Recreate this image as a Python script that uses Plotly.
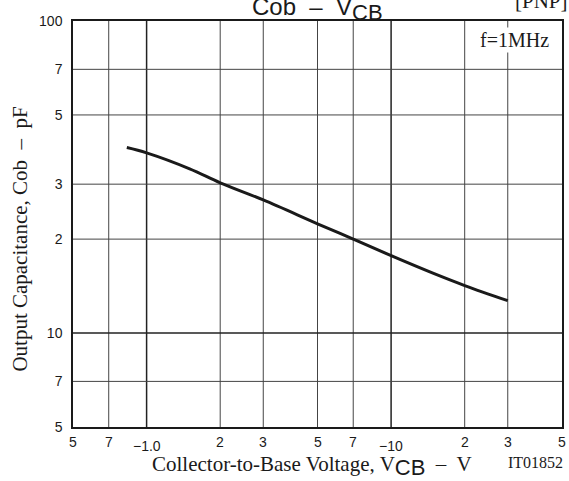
import math
import plotly.graph_objects as go

# Output capacitance vs collector-to-base voltage (magnitude, V) at f = 1 MHz
vcb = [0.83, 1.0, 1.5, 2.0, 3.0, 5.0, 7.0, 10.0, 15.0, 20.0, 30.0]
cob = [39.3, 37.8, 33.6, 30.3, 26.7, 22.4, 20.0, 17.7, 15.5, 14.2, 12.7]

# Grid positions and tick labels
x_grid = [0.7, 1, 2, 3, 5, 7, 10, 20, 30]
x_ticks = [0.5, 0.7, 1, 2, 3, 5, 7, 10, 20, 30, 50]
x_labels = ["5", "7", "\u22121.0", "2", "3", "5", "7", "\u221210", "2", "3", "5"]
y_grid = [7, 10, 20, 30, 50, 70]
y_ticks = [5, 7, 10, 20, 30, 50, 70, 100]
y_labels = ["5", "7", "10", "2", "3", "5", "7", "100"]

SERIF = "Liberation Serif, Times New Roman, serif"
SANS = "Liberation Sans, Arial, sans-serif"
INK = "#1a1a1a"

fig = go.Figure()

fig.add_trace(go.Scatter(
    x=vcb, y=cob, mode="lines",
    line=dict(color=INK, width=3, shape="spline", smoothing=1.0),
    hoverinfo="skip", showlegend=False,
))

shapes = []
for xv in x_grid:
    major = xv in (1, 10)
    shapes.append(dict(type="line", xref="x", yref="paper", x0=xv, x1=xv, y0=0, y1=1,
                       line=dict(color="#222" if major else "#444", width=1.5 if major else 1),
                       layer="below"))
for yv in y_grid:
    major = yv == 10
    shapes.append(dict(type="line", xref="paper", yref="y", x0=0, x1=1, y0=yv, y1=yv,
                       line=dict(color="#222" if major else "#444", width=1.5 if major else 1),
                       layer="below"))

annotations = []
# x tick labels; the decade labels sit slightly lower
for xv, lab in zip(x_ticks, x_labels):
    low = lab.startswith("\u2212")
    annotations.append(dict(x=math.log10(xv), xref="x", y=0, yref="paper",
                            text=lab, showarrow=False, xanchor="center", yanchor="top",
                            yshift=-5 if not low else -9,
                            font=dict(family=SANS, size=14, color=INK)))

# Title
annotations.append(dict(x=0.5, xref="paper", y=1, yref="paper", xanchor="center", yanchor="bottom",
                        yshift=-6, showarrow=False,
                        text="Cob  \u2013  V<sub><span style='font-size:22px'>CB</span></sub>",
                        font=dict(family=SANS, size=24, color=INK)))
annotations.append(dict(x=0.900, xref="paper", y=1, yref="paper", xanchor="left", yanchor="bottom",
                        yshift=6, showarrow=False, text="[PNP]",
                        font=dict(family=SERIF, size=21, color=INK)))
annotations.append(dict(x=0.978, xref="paper", y=0.952, yref="paper", xanchor="right", yanchor="middle",
                        showarrow=False, text="f=1MHz", bgcolor="white", borderpad=1,
                        font=dict(family=SERIF, size=20, color=INK)))
# Axis titles
annotations.append(dict(x=0.489, xref="paper", y=0, yref="paper", xanchor="center", yanchor="top",
                        yshift=-23, showarrow=False,
                        text="Collector-to-Base Voltage, V<sub><span style='font-family:Liberation Sans, Arial, sans-serif;font-size:22px'>CB</span></sub>  \u2013  V",
                        font=dict(family=SERIF, size=21, color=INK)))
annotations.append(dict(x=1.0, xref="paper", y=0, yref="paper", xanchor="right", yanchor="top",
                        xshift=3, yshift=-25, showarrow=False, text="IT01852",
                        font=dict(family=SERIF, size=16, color=INK)))
annotations.append(dict(x=-0.108, xref="paper", y=0.462, yref="paper", xanchor="center", yanchor="middle",
                        textangle=-90, showarrow=False, text="Output Capacitance, Cob  \u2013  pF",
                        font=dict(family=SERIF, size=21, color=INK)))

fig.update_layout(
    width=569, height=481,
    margin=dict(l=73, r=5, t=21, b=54),
    paper_bgcolor="white", plot_bgcolor="white",
    shapes=shapes, annotations=annotations,
    showlegend=False,
    xaxis=dict(type="log", range=[math.log10(0.5), math.log10(50)],
               showgrid=False, zeroline=False, showticklabels=False, ticks="",
               showline=True, mirror=True, linecolor=INK, linewidth=1.5, fixedrange=True),
    yaxis=dict(type="log", range=[math.log10(5), math.log10(100)],
               tickvals=y_ticks, ticktext=y_labels, ticks="", ticklabelstandoff=6,
               tickfont=dict(family=SANS, size=14, color=INK),
               showgrid=False, zeroline=False,
               showline=True, mirror=True, linecolor=INK, linewidth=1.5, fixedrange=True),
)

fig.write_html("out.html")
